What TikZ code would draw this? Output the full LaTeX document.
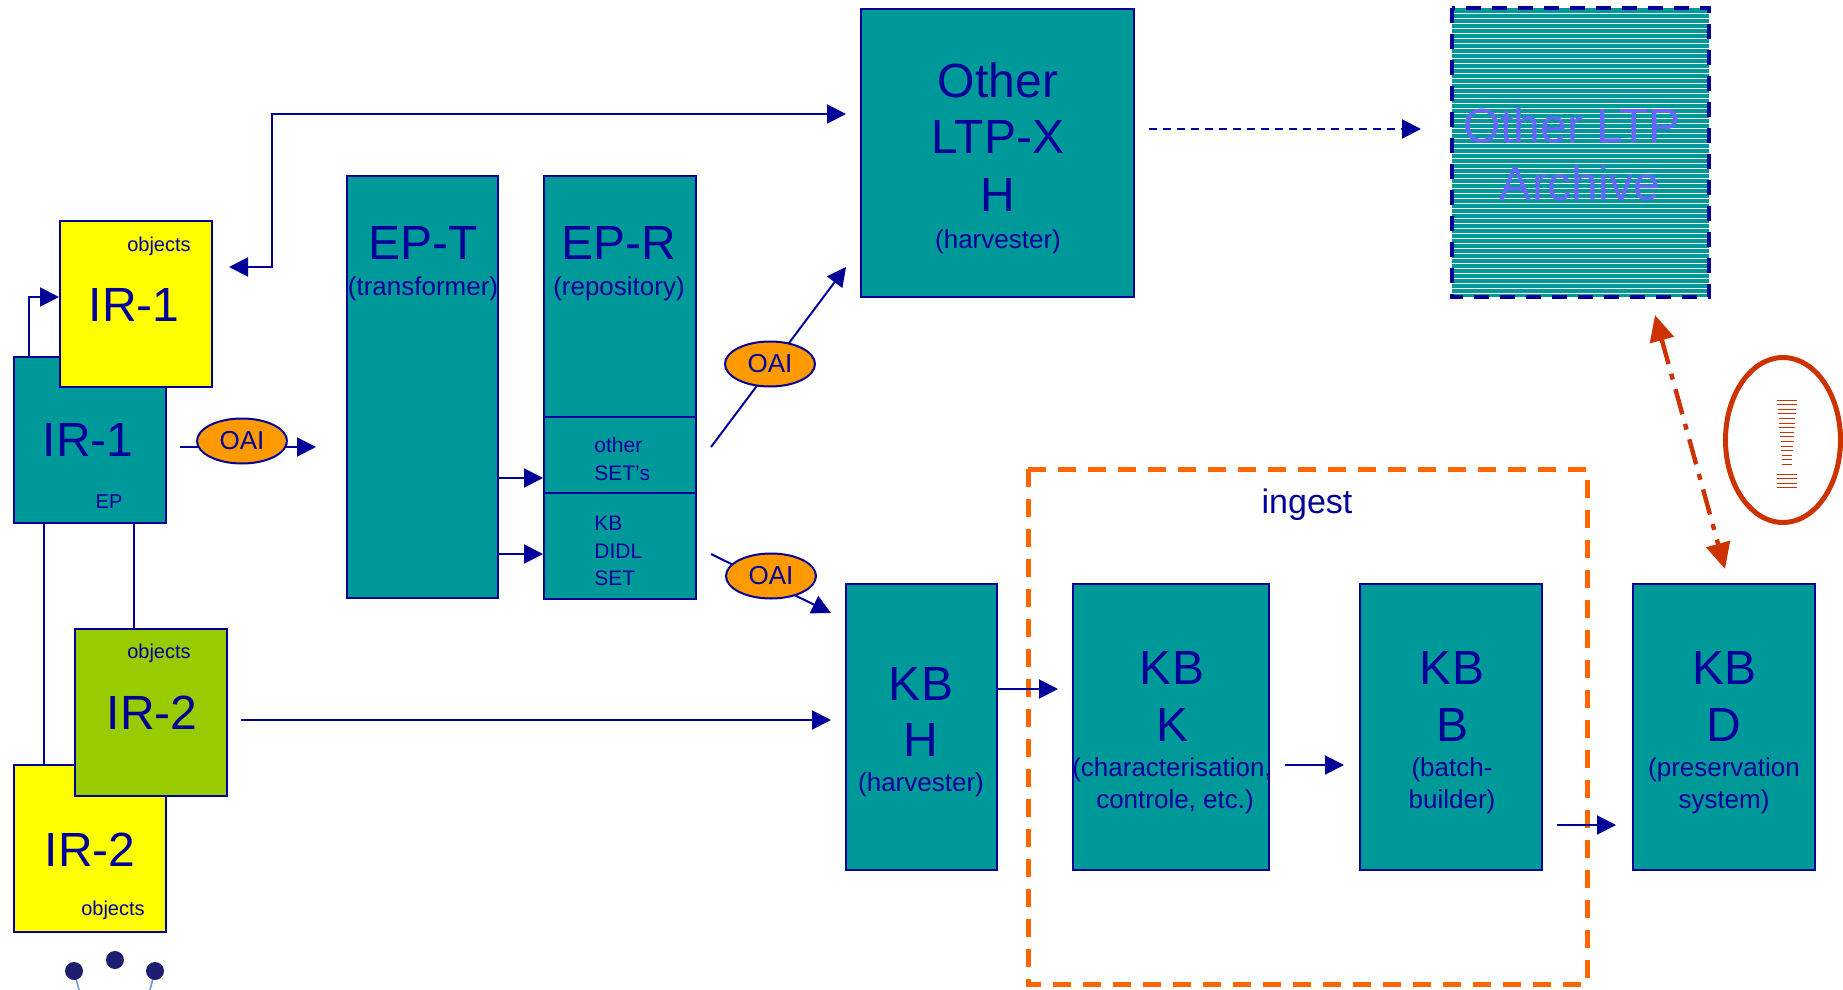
\documentclass[tikz,border=0pt]{standalone}
\usepackage{fontspec}
\setmainfont{Liberation Sans}
\usetikzlibrary{arrows.meta,shapes.geometric}
\definecolor{navy}{RGB}{0,0,153}
\definecolor{tealc}{RGB}{0,153,153}
\definecolor{yel}{RGB}{255,255,0}
\definecolor{grn}{RGB}{153,204,0}
\definecolor{oaio}{RGB}{255,153,0}
\definecolor{ingo}{RGB}{255,102,0}
\definecolor{redc}{RGB}{204,51,0}
\definecolor{archtxt}{RGB}{102,102,255}
\definecolor{dotc}{RGB}{30,30,110}
\definecolor{lblue}{RGB}{110,150,210}
\newcommand\myfs[1]{\fontsize{#1}{#1}\selectfont}
\begin{document}
\begin{tikzpicture}[x=0.5pt,y=-0.5pt,
  box/.style={draw=navy, line width=1pt, inner sep=0pt, rectangle},
  tealbox/.style={box, fill=tealc},
  lbl/.style={text=navy, inner sep=0pt},
  big/.style={lbl, font=\myfs{24}},
  sub/.style={lbl, font=\myfs{13}},
  small/.style={lbl, font=\myfs{10}},
  arr/.style={draw=navy, line width=1pt, -{Triangle[length=9.5pt,width=9.5pt]}},
  arrb/.style={draw=navy, line width=1pt, {Triangle[length=9.5pt,width=9.5pt]}-{Triangle[length=9.5pt,width=9.5pt]}},
  oai/.style={ellipse, draw=navy, line width=1pt, fill=oaio, minimum width=45pt, minimum height=22.5pt, inner sep=0pt, text=navy, font=\myfs{13}}
]
\useasboundingbox (0,0) rectangle (1843,990);

% ---------- IR boxes ----------
\node[tealbox, minimum width=76pt, minimum height=83pt] (ir1t) at (90,440) {};
\node[box, fill=yel, minimum width=76pt, minimum height=83pt] (ir1y) at (136,304) {};
\node[box, fill=yel, minimum width=76pt, minimum height=83.5pt] (ir2y) at (90,848.5) {};
\node[box, fill=grn, minimum width=76pt, minimum height=83.5pt] (ir2g) at (151,712.5) {};

\node[small] (t1) at (159,246) {objects};
\node[big] (t2) at (134,305) {IR-1};
\node[big] (t3) at (88,440) {IR-1};
\node[small] (t4) at (109,502) {EP};
\node[small] (t5) at (159,653) {objects};
\node[big] (t6) at (152,713) {IR-2};
\node[big] (t7) at (90,850) {IR-2};
\node[small] (t8) at (113,910) {objects};

% connectors among IR boxes
\draw[arr] ([xshift=8pt]ir1t.north west) |- ([yshift=3.5pt]ir1y.west);
\draw[navy, line width=1pt] ([xshift=15.5pt]ir1t.south west) -- ([xshift=15.5pt]ir1t.south west |- ir2y.north);
\draw[navy, line width=1pt] ([xshift=60.5pt]ir1t.south west) -- ([xshift=60.5pt]ir1t.south west |- ir2g.north);

% ---------- EP-T / EP-R ----------
\node[tealbox, minimum width=75.5pt, minimum height=211pt] (ept) at (422.5,387) {};
\node[tealbox, minimum width=76pt, minimum height=211.5pt] (epr) at (620,387.5) {};
\draw[navy, line width=1pt] (epr.west |- 0,417) -- (epr.east |- 0,417);
\draw[navy, line width=1pt] (epr.west |- 0,493) -- (epr.east |- 0,493);
\node[big] (t9) at (423,243) {EP-T};
\node[sub] (t10) at (423,289) {(transformer)};
\node[big] (t11) at (619,243) {EP-R};
\node[sub] (t12) at (619,289) {(repository)};
\node[lbl, font=\myfs{10.5}, anchor=west] (t13) at (594,445) {other};
\node[lbl, font=\myfs{10.5}, anchor=west] (t14) at (594,473) {SET’s};
\node[lbl, font=\myfs{10.5}, anchor=west] (t15) at (594,523) {KB};
\node[lbl, font=\myfs{10.5}, anchor=west] (t16) at (594,551) {DIDL};
\node[lbl, font=\myfs{10.5}, anchor=west] (t17) at (594,578) {SET};
\draw[arr] (ept.east |- 0,478) -- (epr.west |- 0,478);
\draw[arr] (ept.east |- 0,554) -- (epr.west |- 0,554);

% ---------- Other LTP-X H ----------
\node[tealbox, minimum width=136.5pt, minimum height=144pt] (oth) at (997.5,153) {};
\node[big] (t18) at (998,80) {Other};
\node[big] (t19) at (998,137) {LTP-X};
\node[big] (t20) at (998,195) {H};
\node[sub] (t21) at (998,242) {(harvester)};

% ---------- Other LTP Archive ----------
\node[rectangle, fill=tealc, minimum width=128.5pt, minimum height=144.5pt, inner sep=0pt] (arch) at (1580.5,152.5) {};
\foreach \yy in {13,18,...,295} {
  \draw[white, line width=0.45pt] (1452,\yy) -- (1709,\yy);
}
\draw[navy, line width=2pt, dash pattern=on 7.5pt off 5.5pt] (arch.north west) rectangle (arch.south east);
\node[lbl, text=archtxt, font=\myfs{24}] (t22) at (1572,125) {Other LTP};
\node[lbl, text=archtxt, font=\myfs{24}] (t23) at (1580,183) {Archive};

% ---------- OAI connectors ----------
\coordinate (o1s) at (180,447);
\coordinate (o1e) at (316,447);
\draw[arr] (o1s) -- (o1e);
\node[oai] (oai1) at (242,441) {OAI};

\coordinate (o2s) at (711,447);
\coordinate (o2e) at (846,267);
\draw[arr] (o2s) -- (o2e);
\node[oai] (oai2) at (770,364) {OAI};

\coordinate (o3s) at (711,554);
\coordinate (o3e) at (831,613);
\draw[arr] (o3s) -- (o3e);
\node[oai] (oai3) at (771,576) {OAI};

% top double arrow IR-1 objects <-> Other LTP-X
\coordinate (tl) at (272,114);
\coordinate (tr) at (846,114);
\draw[arrb] ([xshift=8pt,yshift=18.5pt]ir1y.east) -| (tl) -- (tr);

% dashed arrow to archive
\coordinate (da) at (1421,129);
\draw[navy, line width=1pt, dash pattern=on 4pt off 3pt, -{Triangle[length=9.5pt,width=9.5pt]}] ([xshift=7pt]oth.east |- da) -- (da);

% ---------- ingest ----------
\draw[ingo, line width=2.5pt, dash pattern=on 9pt off 6pt] (1028,469) rectangle (1587,984);
\node[lbl, font=\myfs{17}] (t24) at (1307,505) {ingest};

% ---------- KB boxes ----------
\node[tealbox, minimum width=75.5pt, minimum height=143pt] (kbh) at (921.5,727) {};
\node[tealbox, minimum width=98pt, minimum height=143pt] (kbk) at (1171,727) {};
\node[tealbox, minimum width=91pt, minimum height=143pt] (kbb) at (1451,727) {};
\node[tealbox, minimum width=91pt, minimum height=143pt] (kbd) at (1724,727) {};

\node[big] (t25) at (921,684) {KB};
\node[big] (t26) at (921,740) {H};
\node[sub] (t27) at (921,785) {(harvester)};

\node[big] (t28) at (1172,668) {KB};
\node[big] (t29) at (1172,725) {K};
\node[sub] (t30) at (1172,770) {(characterisation,};
\node[sub] (t31) at (1175,802) {controle, etc.)};

\node[big] (t32) at (1452,668) {KB};
\node[big] (t33) at (1452,725) {B};
\node[sub] (t34) at (1452,770) {(batch-};
\node[sub] (t35) at (1452,802) {builder)};

\node[big] (t36) at (1724,668) {KB};
\node[big] (t37) at (1724,725) {D};
\node[sub] (t38) at (1724,770) {(preservation};
\node[sub] (t39) at (1724,802) {system)};

% KB connectors
\coordinate (k1) at (1058,689);
\draw[arr] (kbh.east |- k1) -- (k1);
\coordinate (k2s) at (1285,765);
\coordinate (k2e) at (1344,765);
\draw[arr] (k2s) -- (k2e);
\coordinate (k3s) at (1557,825);
\coordinate (k3e) at (1616,825);
\draw[arr] (k3s) -- (k3e);
\coordinate (i2s) at (241,720);
\coordinate (i2e) at (831,720);
\draw[arr] (i2s) -- (i2e);

% ---------- red double arrow and ellipse ----------
\coordinate (r1) at (1655,315);
\coordinate (r2) at (1725,569);
\draw[redc, line width=2.2pt, dash pattern=on 13pt off 5pt on 3pt off 5pt,
  {Triangle[length=13pt,width=12pt]}-{Triangle[length=13pt,width=12pt]}] (r1) -- (r2);
\node[ellipse, draw=redc, line width=2.5pt, minimum width=57.5pt, minimum height=82.5pt, inner sep=0pt] (warn) at (1783,440) {};
\foreach \i in {0,...,14} {
  \pgfmathsetmacro\hw{10-\i*0.39}
  \pgfmathsetmacro\yy{400+\i*4.6}
  \draw[redc, line width=0.5pt] (1787-\hw,\yy) -- (1787+\hw,\yy);
}
\foreach \yy in {474,478.5,483,487.5} {
  \draw[redc, line width=0.5pt] (1777,\yy) -- (1797,\yy);
}

% ---------- dots at bottom ----------
\draw[lblue, line width=0.8pt] (74,971) -- (79,990);
\draw[lblue, line width=0.8pt] (155,971) -- (150,990);
\fill[dotc] (74,971) circle (4.5pt);
\fill[dotc] (115,960) circle (4.5pt);
\fill[dotc] (155,971) circle (4.5pt);
\end{tikzpicture}
\end{document}
